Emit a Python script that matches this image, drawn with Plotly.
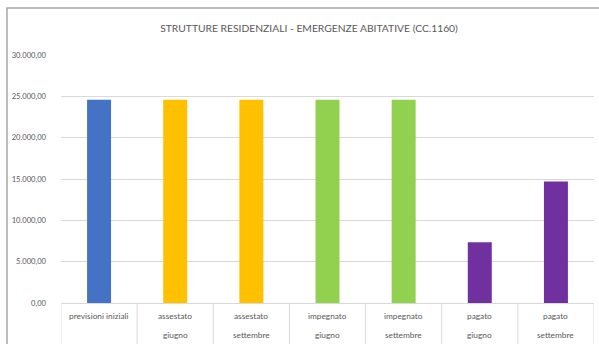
import plotly.graph_objects as go

# Budget figures for chapter 1160
categories = ["previsioni iniziali", "assestato giugno", "assestato settembre",
              "impegnato giugno", "impegnato settembre", "pagato giugno", "pagato settembre"]
label_line1 = ["previsioni iniziali", "assestato", "assestato",
               "impegnato", "impegnato", "pagato", "pagato"]
label_line2 = ["", "giugno", "settembre", "giugno", "settembre", "giugno", "settembre"]
values = [24600, 24600, 24600, 24600, 24600, 7350, 14700]
bar_colors = ["#4472C4", "#FFC000", "#FFC000", "#92D050", "#92D050", "#7030A0", "#7030A0"]
y_ticks = [0, 5000, 10000, 15000, 20000, 25000, 30000]

W, H = 599, 344
L, R, T, B = 61, 5, 55, 41
PW, PH = W - L - R, H - T - B

FONT = "Lato, Open Sans, sans-serif"
TXT = "#595959"
GRID = "#D9D9D9"


def px_x(x):
    return (x - L) / PW


def px_y(y):
    return 1 - (y - T) / PH


fig = go.Figure(go.Bar(
    x=categories, y=values, marker=dict(color=bar_colors, line_width=0),
    width=0.315, hoverinfo="x+y",
))

shapes = []
# chart frame
shapes.append(dict(type="rect", xref="paper", yref="paper",
                   x0=px_x(7), x1=px_x(640), y0=px_y(380), y1=px_y(8),
                   line=dict(color="#A6A6A6", width=1.5), layer="below"))
# category separators below the axis
for i in range(len(categories) + 1):
    shapes.append(dict(type="line", xref="x", yref="paper",
                       x0=i - 0.5, x1=i - 0.5, y0=0, y1=px_y(350),
                       line=dict(color=GRID, width=1)))

annotations = []
for i, (a, b) in enumerate(zip(label_line1, label_line2)):
    annotations.append(dict(x=i, y=px_y(316), xref="x", yref="paper", text=a,
                            showarrow=False, yanchor="middle",
                            font=dict(family=FONT, size=8.3, color=TXT)))
    if b:
        annotations.append(dict(x=i, y=px_y(335), xref="x", yref="paper", text=b,
                                showarrow=False, yanchor="middle",
                                font=dict(family=FONT, size=8.3, color=TXT)))

fig.update_layout(
    width=W, height=H,
    margin=dict(l=L, r=R, t=T, b=B, pad=0),
    paper_bgcolor="white", plot_bgcolor="white",
    separators=",.",
    showlegend=False,
    bargap=0.685,
    title=dict(text="STRUTTURE RESIDENZIALI - EMERGENZE ABITATIVE (CC.1160)",
               xref="container", yref="container", x=309 / W, y=1 - 28 / H,
               xanchor="center", yanchor="middle",
               font=dict(family=FONT, size=10.3, color=TXT)),
    xaxis=dict(showticklabels=False, showgrid=False, zeroline=False,
               showline=True, linecolor=GRID, linewidth=1,
               range=[-0.5, len(categories) - 0.5], fixedrange=True),
    yaxis=dict(range=[0, 30000], tickvals=y_ticks, tickformat=",.2f",
               showgrid=True, gridcolor=GRID, gridwidth=1, zeroline=False,
               showline=False, ticks="", ticklabelstandoff=14,
               tickfont=dict(family=FONT, size=7.6, color=TXT), fixedrange=True),
    shapes=shapes,
    annotations=annotations,
)

fig.write_html("out.html")
